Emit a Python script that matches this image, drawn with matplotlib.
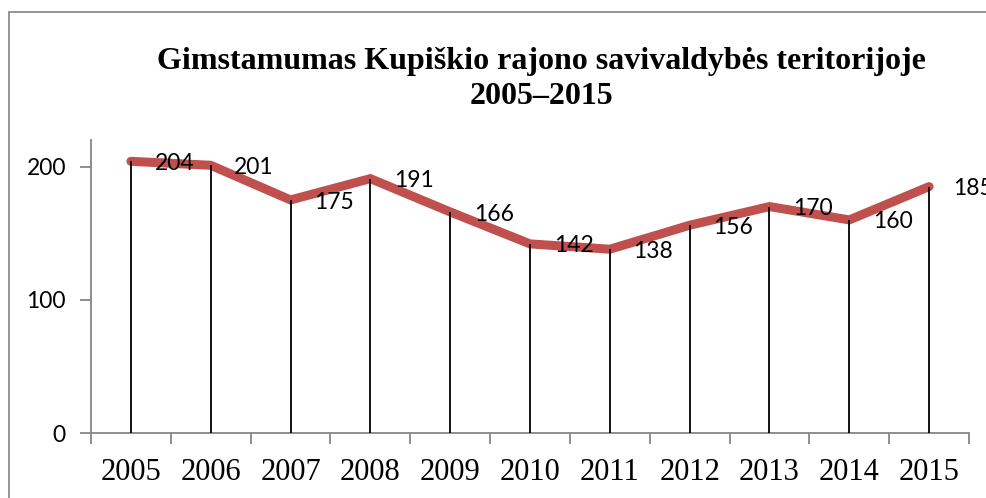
import matplotlib
matplotlib.use('Agg')
import matplotlib.pyplot as plt
from matplotlib.patches import Rectangle

years = ['2005', '2006', '2007', '2008', '2009', '2010', '2011', '2012', '2013', '2014', '2015']
births = [204, 201, 175, 191, 166, 142, 138, 156, 170, 160, 185]
title = 'Gimstamumas Kupiškio rajono savivaldybės teritorijoje\n2005–2015'

W, H = 987, 498
fig = plt.figure(figsize=(W / 100, H / 100), dpi=100)

# outer chart frame (runs off the right/bottom edge in the original)
fig.patches.append(Rectangle((9 / W, -0.1), 1.2, 1 - 12 / H + 0.1, transform=fig.transFigure,
                             fill=False, edgecolor='#8c8c8c', linewidth=1.3))

ax = fig.add_axes([91 / W, 1 - 433 / H, (969 - 91) / W, (433 - 140) / H])
x = list(range(len(years)))

ax.plot(x, births, color='#c0504d', linewidth=6.5, solid_capstyle='round',
        solid_joinstyle='miter', zorder=2)
ax.vlines(x, 0, births, color='black', linewidth=1.3, zorder=3)

for xi, v in zip(x, births):
    ax.annotate(str(v), (xi, v), xytext=(17, -1.5), textcoords='offset points',
                ha='left', va='center', fontsize=16.5, family='Lato',
                annotation_clip=False, zorder=4)

ax.set_xlim(-0.5, len(years) - 0.5)
ax.set_ylim(0, 220)
ax.set_yticks([0, 100, 200])
ax.set_yticklabels(['0', '100', '200'], family='Lato', fontsize=16.5)

ax.set_xticks(x)
ax.set_xticklabels(years, family='Liberation Serif', fontsize=22)
ax.set_xticks([i - 0.5 for i in range(len(years) + 1)], minor=True)
ax.tick_params(axis='x', which='major', length=0, pad=18)
ax.tick_params(axis='x', which='minor', length=8, color='#868686', width=1.3, direction='out')
ax.tick_params(axis='y', length=8, color='#868686', width=1.3, pad=10)

for s in ['top', 'right']:
    ax.spines[s].set_visible(False)
for s in ['left', 'bottom']:
    ax.spines[s].set_color('#868686')
    ax.spines[s].set_linewidth(1.3)

fig.text(541 / W, 1 - 79 / H, title, ha='center', va='center', fontsize=23,
         fontweight='bold', family='Liberation Serif', linespacing=1.3)

fig.savefig('out.png', dpi=100)
